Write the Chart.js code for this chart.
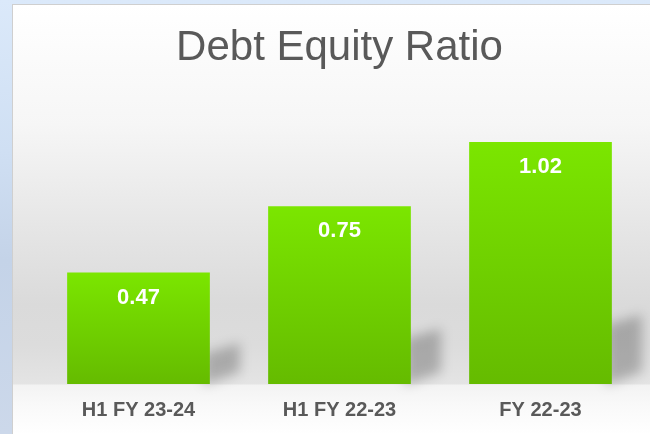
<!DOCTYPE html>
<html>
<head>
<meta charset="utf-8">
<script src="https://cdn.jsdelivr.net/npm/chart.js@4.4.0/dist/chart.umd.min.js"></script>
<style>
  html, body { margin: 0; padding: 0; }
  body {
    width: 650px; height: 434px; overflow: hidden; position: relative;
    background: linear-gradient(180deg, #dbe9fa 0%, #cfdff3 35%, #c4d3e8 60%, #ccd8ea 100%);
  }
  .panel {
    position: absolute; left: 12px; top: 4px; width: 638px; height: 430px;
    box-sizing: border-box;
    border-left: 1px solid #cfcfcf; border-top: 1px solid #cfcfcf;
    background: linear-gradient(180deg,
      #ffffff 0px, #f6f6f6 120px, #e6e6e6 220px, #dadada 300px,
      #dcdcdc 340px, #e4e4e4 379px, #f3f3f3 380px, #f9f9f9 400px, #ffffff 430px);
  }
  #chart { position: absolute; left: 0; top: 0; }
</style>
</head>
<body>
<div class="panel"></div>
<canvas id="chart" width="650" height="434"></canvas>
<script>
const categories = ['H1 FY 23-24', 'H1 FY 22-23', 'FY 22-23'];
const ratioValues = [0.47, 0.75, 1.02];
const chartTitle = 'Debt Equity Ratio';

// shadow behind each bar + value labels inside
const barDecor = {
  id: 'barDecor',
  beforeDatasetsDraw(chart) {
    const ctx = chart.ctx;
    const meta = chart.getDatasetMeta(0);
    ctx.save();
    ctx.filter = 'blur(6px)';
    ctx.fillStyle = 'rgba(0,0,0,0.24)';
    meta.data.forEach(bar => {
      const right = bar.x + bar.width / 2;
      const h = bar.base - bar.y;
      const depth = 30;
      ctx.beginPath();
      ctx.moveTo(right - 6, bar.base + 1);
      ctx.lineTo(right - 6, bar.base - h * 0.22 - 6);
      ctx.lineTo(right + depth, bar.base - h * 0.22 - 16);
      ctx.lineTo(right + depth, bar.base - 12);
      ctx.closePath();
      ctx.fill();
    });
    ctx.restore();
  },
  afterDatasetsDraw(chart) {
    const ctx = chart.ctx;
    const meta = chart.getDatasetMeta(0);
    ctx.save();
    ctx.fillStyle = '#ffffff';
    ctx.font = 'bold 22px "Liberation Sans", Arial, sans-serif';
    ctx.textAlign = 'center';
    ctx.textBaseline = 'middle';
    meta.data.forEach((bar, i) => {
      ctx.fillText(ratioValues[i].toFixed(2), bar.x, bar.y + 25);
    });
    ctx.restore();
  }
};

new Chart(document.getElementById('chart'), {
  type: 'bar',
  data: {
    labels: categories,
    datasets: [{
      data: ratioValues,
      backgroundColor: (c) => {
        const chart = c.chart;
        if (!chart.chartArea) return '#72d400';
        const y = chart.scales.y;
        const top = y.getPixelForValue(c.raw);
        const base = y.getPixelForValue(0);
        const g = chart.ctx.createLinearGradient(0, top, 0, base);
        g.addColorStop(0, '#7be600');
        g.addColorStop(1, '#65bb00');
        return g;
      },
      borderWidth: 0,
      barPercentage: 0.71,
      categoryPercentage: 1.0
    }]
  },
  options: {
    responsive: false,
    animation: false,
    layout: { padding: { left: 38, right: 9, top: 10, bottom: 12 } },
    plugins: {
      legend: { display: false },
      tooltip: { enabled: false },
      title: {
        display: true,
        text: chartTitle,
        color: '#595959',
        font: { family: '"Liberation Sans", Arial, sans-serif', size: 42, weight: 'normal' },
        padding: { top: 13, bottom: 26 }
      }
    },
    scales: {
      x: {
        grid: { display: false, drawTicks: false },
        border: { display: false },
        afterFit: (scale) => { scale.height = 38; },
        ticks: {
          color: '#595959',
          padding: 14,
          font: { family: '"Liberation Sans", Arial, sans-serif', size: 20, weight: 'bold' }
        }
      },
      y: {
        display: false,
        min: 0,
        max: 1.2
      }
    }
  },
  plugins: [barDecor]
});
</script>
</body>
</html>
